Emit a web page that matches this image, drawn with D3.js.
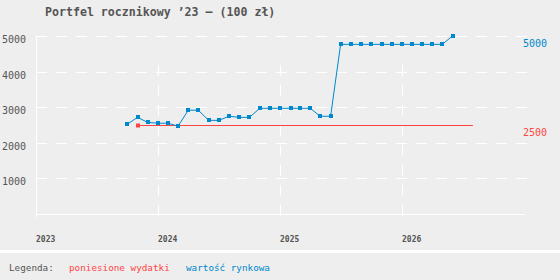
<!DOCTYPE html>
<html>
<head>
<meta charset="utf-8">
<script src="https://cdn.jsdelivr.net/npm/d3@7"></script>
<style>
  html, body { margin: 0; padding: 0; background: #eeeeee; }
  svg { display: block; }
  text { font-family: "DejaVu Sans Mono", monospace; }
</style>
</head>
<body>
<svg id="chart"></svg>
<script>
const title = "Portfel rocznikowy \u201923 \u2013 (100 z\u0142)";

// wartość rynkowa - monthly
const marketMonths = [
  "2023-10", "2023-11", "2023-12", "2024-01", "2024-02", "2024-03",
  "2024-04", "2024-05", "2024-06", "2024-07", "2024-08", "2024-09",
  "2024-10", "2024-11", "2024-12", "2025-01", "2025-02", "2025-03",
  "2025-04", "2025-05", "2025-06", "2025-07", "2025-08", "2025-09",
  "2025-10", "2025-11", "2025-12", "2026-01", "2026-02", "2026-03",
  "2026-04", "2026-05", "2026-06"
];
const marketValues = [
  2520, 2715, 2575, 2550, 2550, 2465,
  2915, 2915, 2630, 2630, 2745, 2715,
  2715, 2970, 2970, 2970, 2970, 2970,
  2970, 2745, 2745, 4765, 4765, 4765,
  4765, 4765, 4765, 4765, 4765, 4765,
  4765, 4765, 5000
];

// poniesione wydatki
const costMonths = ["2023-11"];
const costValues = [2500];
const costEnd = "2026-08";

const yTicks = [1000, 2000, 3000, 4000, 5000];
const years = ["2023", "2024", "2025", "2026"];
const legendLabels = ["poniesione wydatki", "warto\u015b\u0107 rynkowa"];

const width = 560;
const height = 280;
const margin = { top: 36, right: 36, bottom: 66, left: 36 };
const blue = "#0088cc";
const red = "#ff4444";
const gray = "#555555";

const parseMonth = d3.timeParse("%Y-%m");

const svg = d3.select("#chart")
  .attr("width", width)
  .attr("height", height);

svg.append("rect")
  .attr("width", width)
  .attr("height", height)
  .attr("fill", "#eeeeee");

const x = d3.scaleTime()
  .domain([parseMonth("2023-01"), parseMonth("2027-01")])
  .range([margin.left, width - margin.right]);

const y = d3.scaleLinear()
  .domain([0, 5000])
  .range([height - margin.bottom, margin.top]);

// title
svg.append("text")
  .attr("x", 45)
  .attr("y", 12)
  .attr("dominant-baseline", "central")
  .attr("font-size", "11.6px")
  .attr("font-weight", "bold")
  .attr("fill", gray)
  .text(title);

// horizontal grid
svg.append("g")
  .selectAll("line")
  .data(yTicks)
  .join("line")
  .attr("x1", margin.left)
  .attr("x2", width - margin.right + 3)
  .attr("y1", d => Math.round(y(d)) + 0.5)
  .attr("y2", d => Math.round(y(d)) + 0.5)
  .attr("stroke", "#ffffff")
  .attr("stroke-dasharray", "11,9")
  .attr("shape-rendering", "crispEdges");

// vertical grid (years)
const yearDates = years.map(d => d3.timeParse("%Y")(d));
svg.append("g")
  .selectAll("line")
  .data(yearDates.slice(1))
  .join("line")
  .attr("x1", d => Math.round(x(d)) + 0.5)
  .attr("x2", d => Math.round(x(d)) + 0.5)
  .attr("y1", height - margin.bottom + 2)
  .attr("y2", 65)
  .attr("stroke", "#ffffff")
  .attr("stroke-dasharray", "11,9")
  .attr("shape-rendering", "crispEdges");

// axes lines
svg.append("line")
  .attr("x1", margin.left + 0.5)
  .attr("x2", margin.left + 0.5)
  .attr("y1", margin.top)
  .attr("y2", height - margin.bottom + 3)
  .attr("stroke", "#ffffff")
  .attr("shape-rendering", "crispEdges");

svg.append("line")
  .attr("x1", margin.left)
  .attr("x2", width - margin.right + 1)
  .attr("y1", Math.round(y(0)) + 0.5)
  .attr("y2", Math.round(y(0)) + 0.5)
  .attr("stroke", "#ffffff")
  .attr("shape-rendering", "crispEdges");

// y labels
svg.append("g")
  .selectAll("text")
  .data(yTicks)
  .join("text")
  .attr("x", 26)
  .attr("y", d => y(d) + 3.5)
  .attr("text-anchor", "end")
  .attr("dominant-baseline", "central")
  .attr("font-size", "10px")
  .attr("fill", gray)
  .text(d => d);

// x labels
svg.append("g")
  .selectAll("text")
  .data(yearDates)
  .join("text")
  .attr("x", d => Math.round(x(d)))
  .attr("y", 239)
  .attr("dominant-baseline", "central")
  .attr("font-size", "8px")
  .attr("font-weight", "bold")
  .attr("fill", gray)
  .text(d => d3.timeFormat("%Y")(d));

// cost series
const costData = costMonths.map((m, i) => ({ date: parseMonth(m), value: costValues[i] }));
const costLine = costData.concat([{ date: parseMonth(costEnd), value: costValues[costValues.length - 1] }]);

const line = d3.line()
  .x(d => x(d.date))
  .y(d => y(d.value));

svg.append("path")
  .datum(costLine)
  .attr("d", d3.line().x(d => x(d.date)).y(d => Math.round(y(d.value)) + 0.5))
  .attr("fill", "none")
  .attr("stroke", red)
  .attr("stroke-width", 1);

svg.append("g")
  .selectAll("rect")
  .data(costData)
  .join("rect")
  .attr("x", d => Math.round(x(d.date)) - 2)
  .attr("y", d => Math.round(y(d.value)) - 1.5)
  .attr("width", 4)
  .attr("height", 4)
  .attr("fill", red);

// market series
const marketData = marketMonths.map((m, i) => ({ date: parseMonth(m), value: marketValues[i] }));

svg.append("path")
  .datum(marketData)
  .attr("d", line)
  .attr("fill", "none")
  .attr("stroke", blue)
  .attr("stroke-width", 1);

svg.append("g")
  .selectAll("rect")
  .data(marketData)
  .join("rect")
  .attr("x", d => Math.round(x(d.date)) - 2)
  .attr("y", d => Math.round(y(d.value)) - 2)
  .attr("width", 4)
  .attr("height", 4)
  .attr("fill", blue);

// end labels
const endLabels = [
  { value: marketValues[marketValues.length - 1], color: blue },
  { value: costValues[costValues.length - 1], color: red }
];
svg.append("g")
  .selectAll("text")
  .data(endLabels)
  .join("text")
  .attr("x", 523)
  .attr("y", d => y(d.value) + 7)
  .attr("dominant-baseline", "central")
  .attr("font-size", "10px")
  .attr("fill", d => d.color)
  .text(d => d.value);

// separator
svg.append("rect")
  .attr("x", 0)
  .attr("y", 250)
  .attr("width", width)
  .attr("height", 3)
  .attr("fill", "#ffffff");

// legend
svg.append("text")
  .attr("x", 9)
  .attr("y", 267)
  .attr("dominant-baseline", "central")
  .attr("font-size", "9.3px")
  .attr("fill", gray)
  .text("Legenda:");

svg.append("g")
  .selectAll("text")
  .data(legendLabels)
  .join("text")
  .attr("x", (d, i) => [69, 186][i])
  .attr("y", 267)
  .attr("dominant-baseline", "central")
  .attr("font-size", "9.3px")
  .attr("fill", (d, i) => [red, blue][i])
  .text(d => d);
</script>
</body>
</html>
